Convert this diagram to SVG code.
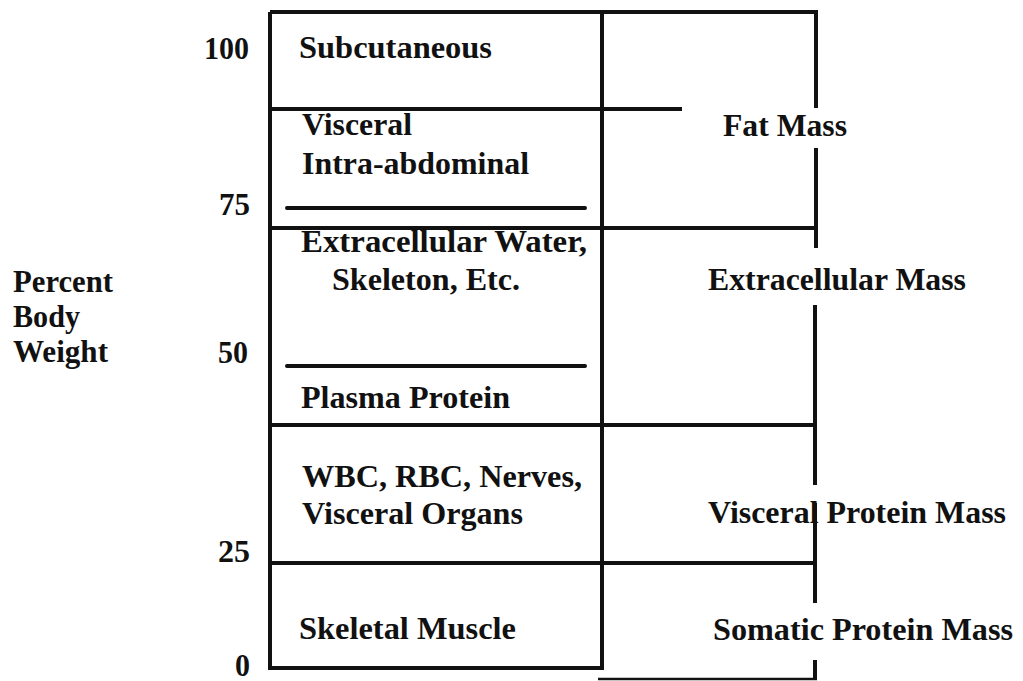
<svg xmlns="http://www.w3.org/2000/svg" width="1023" height="681" viewBox="0 0 1023 681">
<style>
text{font-family:"Liberation Serif","Times New Roman",serif;font-weight:bold;font-size:31px;fill:#111;}
.ln{stroke:#111;stroke-width:4;fill:none;}
.sh{stroke:#111;stroke-width:4;stroke-linecap:round;fill:none;}
.th{stroke:#111;stroke-width:2.5;fill:none;}
</style>
<rect width="1023" height="681" fill="#fff"/>
<g id="connectors">
<path class="ln" d="M270 12 H817"/>
<path class="ln" d="M270 12 V668 H602 V12"/>
<path class="ln" d="M270 109 H682"/>
<path class="sh" d="M287 208 H585"/>
<path class="ln" d="M270 228 H817"/>
<path class="sh" d="M287 366 H585"/>
<path class="ln" d="M270 425 H815"/>
<path class="ln" d="M270 563 H815"/>
<path class="th" d="M598 679 H817"/>
<path class="ln" d="M816 10 V108"/>
<path class="ln" d="M816 148 V248"/>
<path class="ln" d="M815 305 V485"/>
<path class="ln" d="M815 503 V603"/>
<path class="ln" d="M815 660 V680"/>
</g>
<g id="axis">
<text x="204" y="59" textLength="45" lengthAdjust="spacingAndGlyphs">100</text>
<text x="219" y="215" textLength="31" lengthAdjust="spacingAndGlyphs">75</text>
<text x="218" y="363" textLength="30" lengthAdjust="spacingAndGlyphs">50</text>
<text x="218" y="562" textLength="32" lengthAdjust="spacingAndGlyphs">25</text>
<text x="235" y="676" textLength="15" lengthAdjust="spacingAndGlyphs">0</text>
</g>
<g id="axis-title">
<text x="13" y="292" textLength="100" lengthAdjust="spacingAndGlyphs">Percent</text>
<text x="13" y="327" textLength="67" lengthAdjust="spacingAndGlyphs">Body</text>
<text x="13" y="362" textLength="95" lengthAdjust="spacingAndGlyphs">Weight</text>
</g>
<g id="subcutaneous">
<text x="299" y="58" textLength="193" lengthAdjust="spacingAndGlyphs">Subcutaneous</text>
</g>
<g id="visceral-fat">
<text x="302" y="135" textLength="110" lengthAdjust="spacingAndGlyphs">Visceral</text>
<text x="302" y="174" textLength="227" lengthAdjust="spacingAndGlyphs">Intra-abdominal</text>
</g>
<g id="extracellular-water">
<text x="301" y="252" textLength="286" lengthAdjust="spacingAndGlyphs">Extracellular Water,</text>
<text x="332" y="290" textLength="188" lengthAdjust="spacingAndGlyphs">Skeleton, Etc.</text>
</g>
<g id="plasma-protein">
<text x="301" y="408" textLength="209" lengthAdjust="spacingAndGlyphs">Plasma Protein</text>
</g>
<g id="visceral-organs">
<text x="302" y="487" textLength="280" lengthAdjust="spacingAndGlyphs">WBC, RBC, Nerves,</text>
<text x="302" y="524" textLength="221" lengthAdjust="spacingAndGlyphs">Visceral Organs</text>
</g>
<g id="skeletal-muscle">
<text x="299" y="639" textLength="217" lengthAdjust="spacingAndGlyphs">Skeletal Muscle</text>
</g>
<g id="fat-mass">
<text x="723" y="136" textLength="124" lengthAdjust="spacingAndGlyphs">Fat Mass</text>
</g>
<g id="extracellular-mass">
<text x="708" y="290" textLength="258" lengthAdjust="spacingAndGlyphs">Extracellular Mass</text>
</g>
<g id="visceral-protein-mass">
<text x="708" y="523" textLength="298" lengthAdjust="spacingAndGlyphs">Visceral Protein Mass</text>
</g>
<g id="somatic-protein-mass">
<text x="713" y="640" textLength="300" lengthAdjust="spacingAndGlyphs">Somatic Protein Mass</text>
</g>
</svg>
